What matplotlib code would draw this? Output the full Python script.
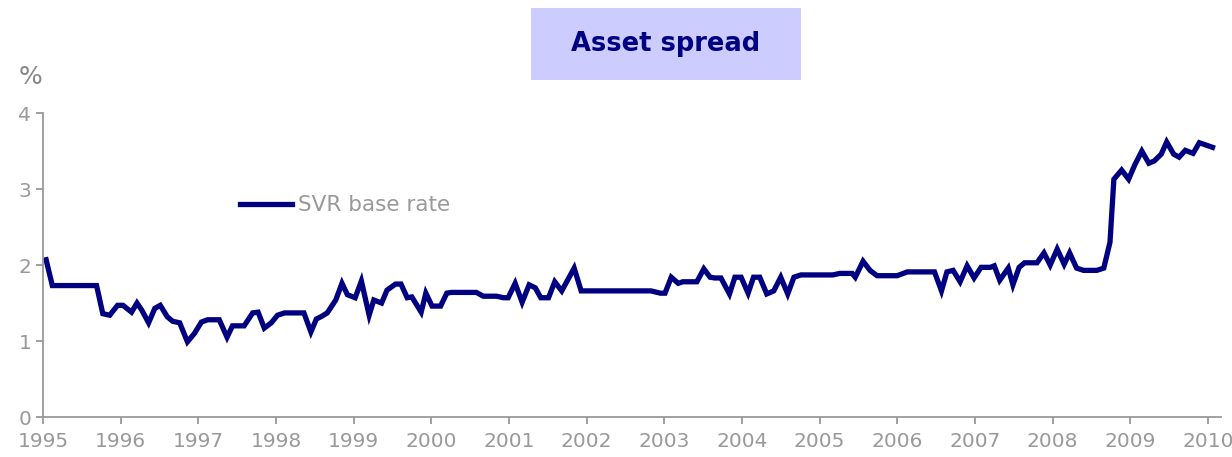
import matplotlib
matplotlib.use("Agg")
import matplotlib.pyplot as plt
from matplotlib.patches import Rectangle

# SVR base rate spread, vertices (decimal years, %)
years = [1995.04, 1995.12, 1995.69, 1995.77, 1995.86, 1995.96, 1996.03, 1996.14,
         1996.21, 1996.27, 1996.36, 1996.44, 1996.51, 1996.60, 1996.67, 1996.76,
         1996.86, 1996.95, 1997.04, 1997.12, 1997.27, 1997.37, 1997.44, 1997.59,
         1997.70, 1997.77, 1997.85, 1997.94, 1998.02, 1998.11, 1998.36, 1998.45,
         1998.52, 1998.58, 1998.66, 1998.77, 1998.85, 1998.92, 1999.02, 1999.10,
         1999.20, 1999.26, 1999.36, 1999.43, 1999.54, 1999.61, 1999.69, 1999.75,
         1999.87, 1999.93, 2000.01, 2000.12, 2000.20, 2000.26, 2000.58, 2000.67,
         2000.84, 2000.93, 2000.99, 2001.08, 2001.17, 2001.26, 2001.34, 2001.41,
         2001.51, 2001.59, 2001.68, 2001.84, 2001.93, 2002.83, 2002.95, 2003.01,
         2003.09, 2003.18, 2003.24, 2003.42, 2003.51, 2003.59, 2003.65, 2003.73,
         2003.84, 2003.91, 2003.99, 2004.08, 2004.15, 2004.23, 2004.32, 2004.41,
         2004.50, 2004.59, 2004.67, 2004.76, 2005.17, 2005.26, 2005.42, 2005.46,
         2005.56, 2005.65, 2005.74, 2006.00, 2006.13, 2006.48, 2006.57, 2006.64,
         2006.72, 2006.81, 2006.90, 2006.99, 2007.08, 2007.20, 2007.25, 2007.32,
         2007.43, 2007.49, 2007.57, 2007.64, 2007.80, 2007.89, 2007.97, 2008.06,
         2008.15, 2008.22, 2008.31, 2008.40, 2008.57, 2008.66, 2008.74, 2008.79,
         2008.89, 2008.98, 2009.06, 2009.15, 2009.24, 2009.31, 2009.40, 2009.47,
         2009.56, 2009.63, 2009.71, 2009.81, 2009.89, 2010.06]
spread = [2.07, 1.73, 1.73, 1.36, 1.34, 1.47, 1.47, 1.38,
          1.50, 1.41, 1.24, 1.43, 1.47, 1.32, 1.26, 1.24,
          0.99, 1.10, 1.25, 1.28, 1.28, 1.05, 1.20, 1.20,
          1.37, 1.38, 1.17, 1.24, 1.34, 1.37, 1.37, 1.12,
          1.29, 1.32, 1.37, 1.54, 1.76, 1.61, 1.57, 1.79,
          1.34, 1.54, 1.50, 1.67, 1.75, 1.75, 1.57, 1.58,
          1.38, 1.63, 1.46, 1.46, 1.63, 1.64, 1.64, 1.59,
          1.59, 1.57, 1.57, 1.76, 1.51, 1.74, 1.70, 1.57,
          1.57, 1.78, 1.66, 1.96, 1.66, 1.66, 1.63, 1.63,
          1.84, 1.76, 1.78, 1.78, 1.95, 1.84, 1.83, 1.83,
          1.62, 1.84, 1.84, 1.63, 1.84, 1.84, 1.62, 1.66,
          1.84, 1.62, 1.84, 1.87, 1.87, 1.89, 1.89, 1.84,
          2.05, 1.93, 1.86, 1.86, 1.91, 1.91, 1.66, 1.91,
          1.93, 1.78, 1.99, 1.83, 1.97, 1.97, 1.99, 1.80,
          1.96, 1.74, 1.97, 2.03, 2.03, 2.16, 2.00, 2.21,
          2.01, 2.16, 1.96, 1.93, 1.93, 1.96, 2.30, 3.13,
          3.25, 3.13, 3.32, 3.50, 3.34, 3.37, 3.46, 3.62,
          3.46, 3.42, 3.51, 3.47, 3.61, 3.55]

tick_years = list(range(1995, 2011))
y_ticks = [0, 1, 2, 3, 4]

grey = "#999999"
navy = "#000080"

fig = plt.figure(figsize=(12.32, 4.57), dpi=100)
ax = fig.add_axes([0.0349, 0.0875, 0.9562, 0.665])

ax.plot(years, spread, color=navy, lw=3.8, solid_joinstyle="miter",
        label="SVR base rate")

ax.set_xlim(1995, 2010.17)
ax.set_ylim(0, 4)
ax.set_xticks(tick_years)
ax.set_xticklabels([str(y) for y in tick_years])
ax.set_yticks(y_ticks)

for s in ["top", "right"]:
    ax.spines[s].set_visible(False)
for s in ["left", "bottom"]:
    ax.spines[s].set_color(grey)
    ax.spines[s].set_linewidth(1.3)
ax.tick_params(axis="both", colors=grey, labelcolor=grey, labelsize=14.5,
               length=5, width=1.3, direction="out")
ax.tick_params(axis="x", pad=6)

leg = ax.legend(loc="center left", bbox_to_anchor=(0.16, 0.697), frameon=False,
                fontsize=15.5, handlelength=2.4, handletextpad=0.3,
                borderaxespad=0)
for t in leg.get_texts():
    t.set_color(grey)

fig.text(0.015, 0.832, "%", color="#888888", fontsize=18, ha="left", va="center")

# title box
fig.patches.append(Rectangle((0.431, 0.825), 0.219, 0.1575, transform=fig.transFigure,
                             facecolor="#ccccff", edgecolor="none", zorder=0))
fig.text(0.5406, 0.9037, "Asset spread", color=navy, fontsize=18.5,
         fontweight="bold", ha="center", va="center")

fig.savefig("out.png", dpi=100)
